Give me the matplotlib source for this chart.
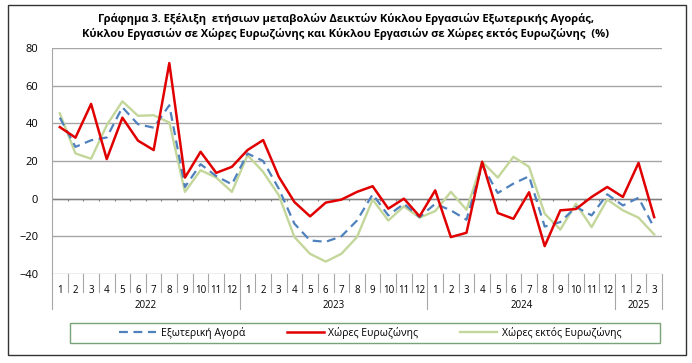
import matplotlib.pyplot as plt
from matplotlib.patches import Rectangle
from matplotlib.lines import Line2D

plt.rcParams['font.family'] = ['Open Sans', 'DejaVu Sans']

years = ['2022', '2023', '2024', '2025']
months_per_year = [12, 12, 12, 3]
month_labels = [str(m) for n in months_per_year for m in range(1, n + 1)]

external = [43, 27.5, 31, 32.5, 48.5, 39.5, 37.7, 49.6, 6.2, 18.3, 12, 7.6,
            24, 20, 5.3, -13.3, -22.2, -22.9, -20, -11.6, 2.3, -8.9, -2.7, -9.8,
            -2.7, -6.2, -11.2, 17.8, 3, 8, 11.9, -14.8, -12.4, -4.4, -8.9, 2.3,
            -3.6, 0.5, -15.5]
eurozone = [38, 32.4, 50.3, 21, 43, 30.8, 25.8, 72, 11.2, 24.9, 13.7, 16.9,
            25.8, 31.1, 11.6, -1.8, -9.4, -2.1, -0.5, 3.6, 6.6, -5.3, 0, -9.4,
            4.4, -20.4, -18.1, 19.6, -7.6, -10.7, 3.4, -25.2, -6.2, -5.5, 0.9, 6.2,
            0.9, 19, -9.8]
non_eurozone = [45.3, 24, 21.2, 39, 51.7, 44, 44.3, 40.4, 3.6, 15.1, 11.2, 3.6,
                23.1, 14.2, 1.8, -20.4, -29.3, -33.4, -29.3, -20.4, -0.5, -11.6, -4.1, -10.1,
                -6.6, 3.6, -5.9, 19.6, 11.2, 22.2, 16.9, -8, -16.4, -2.7, -15.1, -0.5,
                -6.2, -10.1, -19]

fig = plt.figure(figsize=(6.92, 3.63), dpi=100)
ax = fig.add_axes([52 / 692, 1 - 274 / 363, 610 / 692, 226 / 363])

x = list(range(len(month_labels)))
ax.plot(x, non_eurozone, color='#c4d79b', lw=1.7, label='Χώρες εκτός Ευρωζώνης', zorder=3)
ax.plot(x, external, color='#4f81bd', lw=1.6, ls=(0, (4, 2.5)), label='Εξωτερική Αγορά', zorder=4)
ax.plot(x, eurozone, color='#e00000', lw=1.8, label='Χώρες Ευρωζώνης', zorder=5)

ax.set_xlim(-0.5, len(x) - 0.5)
ax.set_ylim(-40, 80)
ax.set_yticks(range(-40, 81, 20))
ax.yaxis.grid(True, color='#a6a6a6', lw=1)
ax.set_axisbelow(True)
ax.axhline(0, color='#808080', lw=1, zorder=2)
for s in ['top', 'right', 'bottom']:
    ax.spines[s].set_visible(False)
ax.spines['left'].set_color('#a6a6a6')
ax.tick_params(axis='y', length=0, labelsize=8, pad=10, colors='#000000')

# month labels below the plot
ax.set_xticks(x)
ax.set_xticklabels(month_labels, fontsize=7)
ax.tick_params(axis='x', length=0, pad=8)

# ticks on the zero line
ax.vlines([i + 0.5 for i in x[:-1]], -1.5, 0, color='#808080', lw=0.8, zorder=2)

# category separators
trans = ax.get_xaxis_transform()
bounds = [i - 0.5 for i in range(len(x) + 1)]
year_edges = [-0.5]
for n in months_per_year:
    year_edges.append(year_edges[-1] + n)
for b in bounds:
    depth = -0.155 if b in year_edges else -0.08
    ax.add_line(Line2D([b, b], [0, depth], transform=trans, color='#a6a6a6', lw=0.8, clip_on=False))
for i, yr in enumerate(years):
    mid = (year_edges[i] + year_edges[i + 1]) / 2
    ax.text(mid, -0.14, yr, transform=trans, ha='center', va='center', fontsize=7)

# title
fig.text(0.5, 1 - 19 / 363, 'Γράφημα 3. Εξέλιξη  ετήσιων μεταβολών Δεικτών Κύκλου Εργασιών Εξωτερικής Αγοράς,',
         ha='center', va='center', fontsize=8, fontweight='bold')
fig.text(0.5, 1 - 34 / 363, 'Κύκλου Εργασιών σε Χώρες Ευρωζώνης και Κύκλου Εργασιών σε Χώρες εκτός Ευρωζώνης  (%)',
         ha='center', va='center', fontsize=8, fontweight='bold')

# legend
handles, labels = ax.get_legend_handles_labels()
order = [1, 2, 0]
fig.legend([handles[i] for i in order], [labels[i] for i in order], ncol=3,
           loc='center', bbox_to_anchor=(370 / 692, 1 - 333 / 363),
           fontsize=7.5, frameon=False, handlelength=3.6, handletextpad=0.4,
           columnspacing=4.0, borderaxespad=0)
fig.patches.append(Rectangle((70 / 692, 1 - 343 / 363), 590 / 692, 20 / 363,
                             transform=fig.transFigure, fill=False, ec='#77a377', lw=1))

# outer frame
fig.patches.append(Rectangle((8 / 692, 1 - 355 / 363), 678 / 692, 350 / 363,
                             transform=fig.transFigure, fill=False, ec='#333333', lw=1))

fig.savefig('out.png', dpi=100)
